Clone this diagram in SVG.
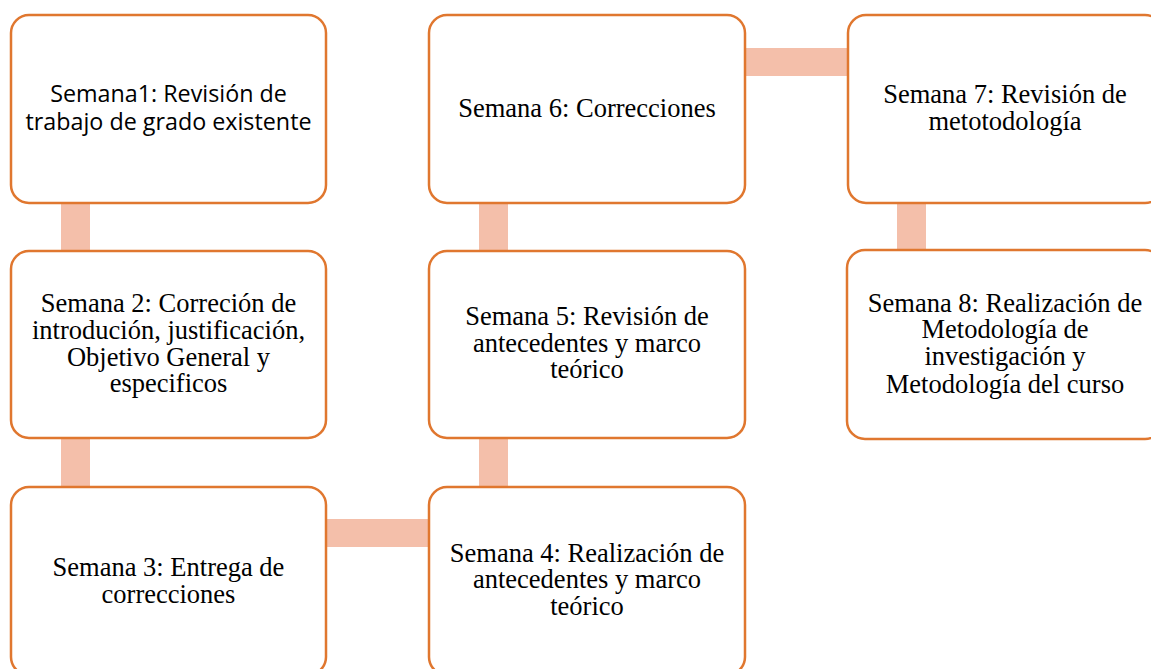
<svg xmlns="http://www.w3.org/2000/svg" width="1151" height="669" viewBox="0 0 1151 669">
<style>
.box{fill:#fff;stroke:#E0772F;stroke-width:2.5}
.con{fill:#F4BFAA}
.t{font-family:"Liberation Serif","Times New Roman",serif;font-size:26.5px;fill:#000;text-anchor:middle}
.s{font-family:"Open Sans","Liberation Sans",Arial,sans-serif;font-size:23.3px;fill:#000;text-anchor:middle}
</style>
<rect width="1151" height="669" fill="#fff"/>
<g id="connectors">
<rect class="con" x="61" y="203" width="29" height="48"/>
<rect class="con" x="61" y="438" width="29" height="49"/>
<rect class="con" x="326" y="519" width="103" height="28"/>
<rect class="con" x="479" y="438" width="29" height="49"/>
<rect class="con" x="479" y="203" width="29" height="48"/>
<rect class="con" x="745" y="48" width="103" height="28"/>
<rect class="con" x="897" y="203" width="29" height="47"/>
</g>
<g id="n1"><rect class="box" x="11" y="15" width="315" height="188" rx="18"/>
<text class="s" x="168.5" y="102">Semana1: Revisión de</text><text class="s" x="168.5" y="130">trabajo de grado existente</text></g>
<g id="n2"><rect class="box" x="11" y="251" width="315" height="187" rx="18"/>
<text class="t" x="168.5" y="312">Semana 2: Correción de</text><text class="t" x="168.5" y="339">introdución, justificación,</text><text class="t" x="168.5" y="366">Objetivo General y</text><text class="t" x="168.5" y="392">especificos</text></g>
<g id="n3"><rect class="box" x="11" y="487" width="315" height="188" rx="18"/>
<text class="t" x="168.5" y="576">Semana 3: Entrega de</text><text class="t" x="168.5" y="603">correcciones</text></g>
<g id="n4"><rect class="box" x="429" y="487" width="316" height="188" rx="18"/>
<text class="t" x="587" y="562">Semana 4: Realización de</text><text class="t" x="587" y="588">antecedentes y marco</text><text class="t" x="587" y="615">teórico</text></g>
<g id="n5"><rect class="box" x="429" y="251" width="316" height="187" rx="18"/>
<text class="t" x="587" y="325">Semana 5: Revisión de</text><text class="t" x="587" y="352">antecedentes y marco</text><text class="t" x="587" y="378">teórico</text></g>
<g id="n6"><rect class="box" x="429" y="15" width="316" height="188" rx="18"/>
<text class="t" x="587" y="117">Semana 6: Correcciones</text></g>
<g id="n7"><rect class="box" x="848" y="15" width="315" height="188" rx="18"/>
<text class="t" x="1005" y="103">Semana 7: Revisión de</text><text class="t" x="1005" y="130">metotodología</text></g>
<g id="n8"><rect class="box" x="847" y="250" width="316" height="189" rx="18"/>
<text class="t" x="1005" y="312">Semana 8: Realización de</text><text class="t" x="1005" y="338">Metodología de</text><text class="t" x="1005" y="365">investigación y</text><text class="t" x="1005" y="393">Metodología del curso</text></g>
</svg>
